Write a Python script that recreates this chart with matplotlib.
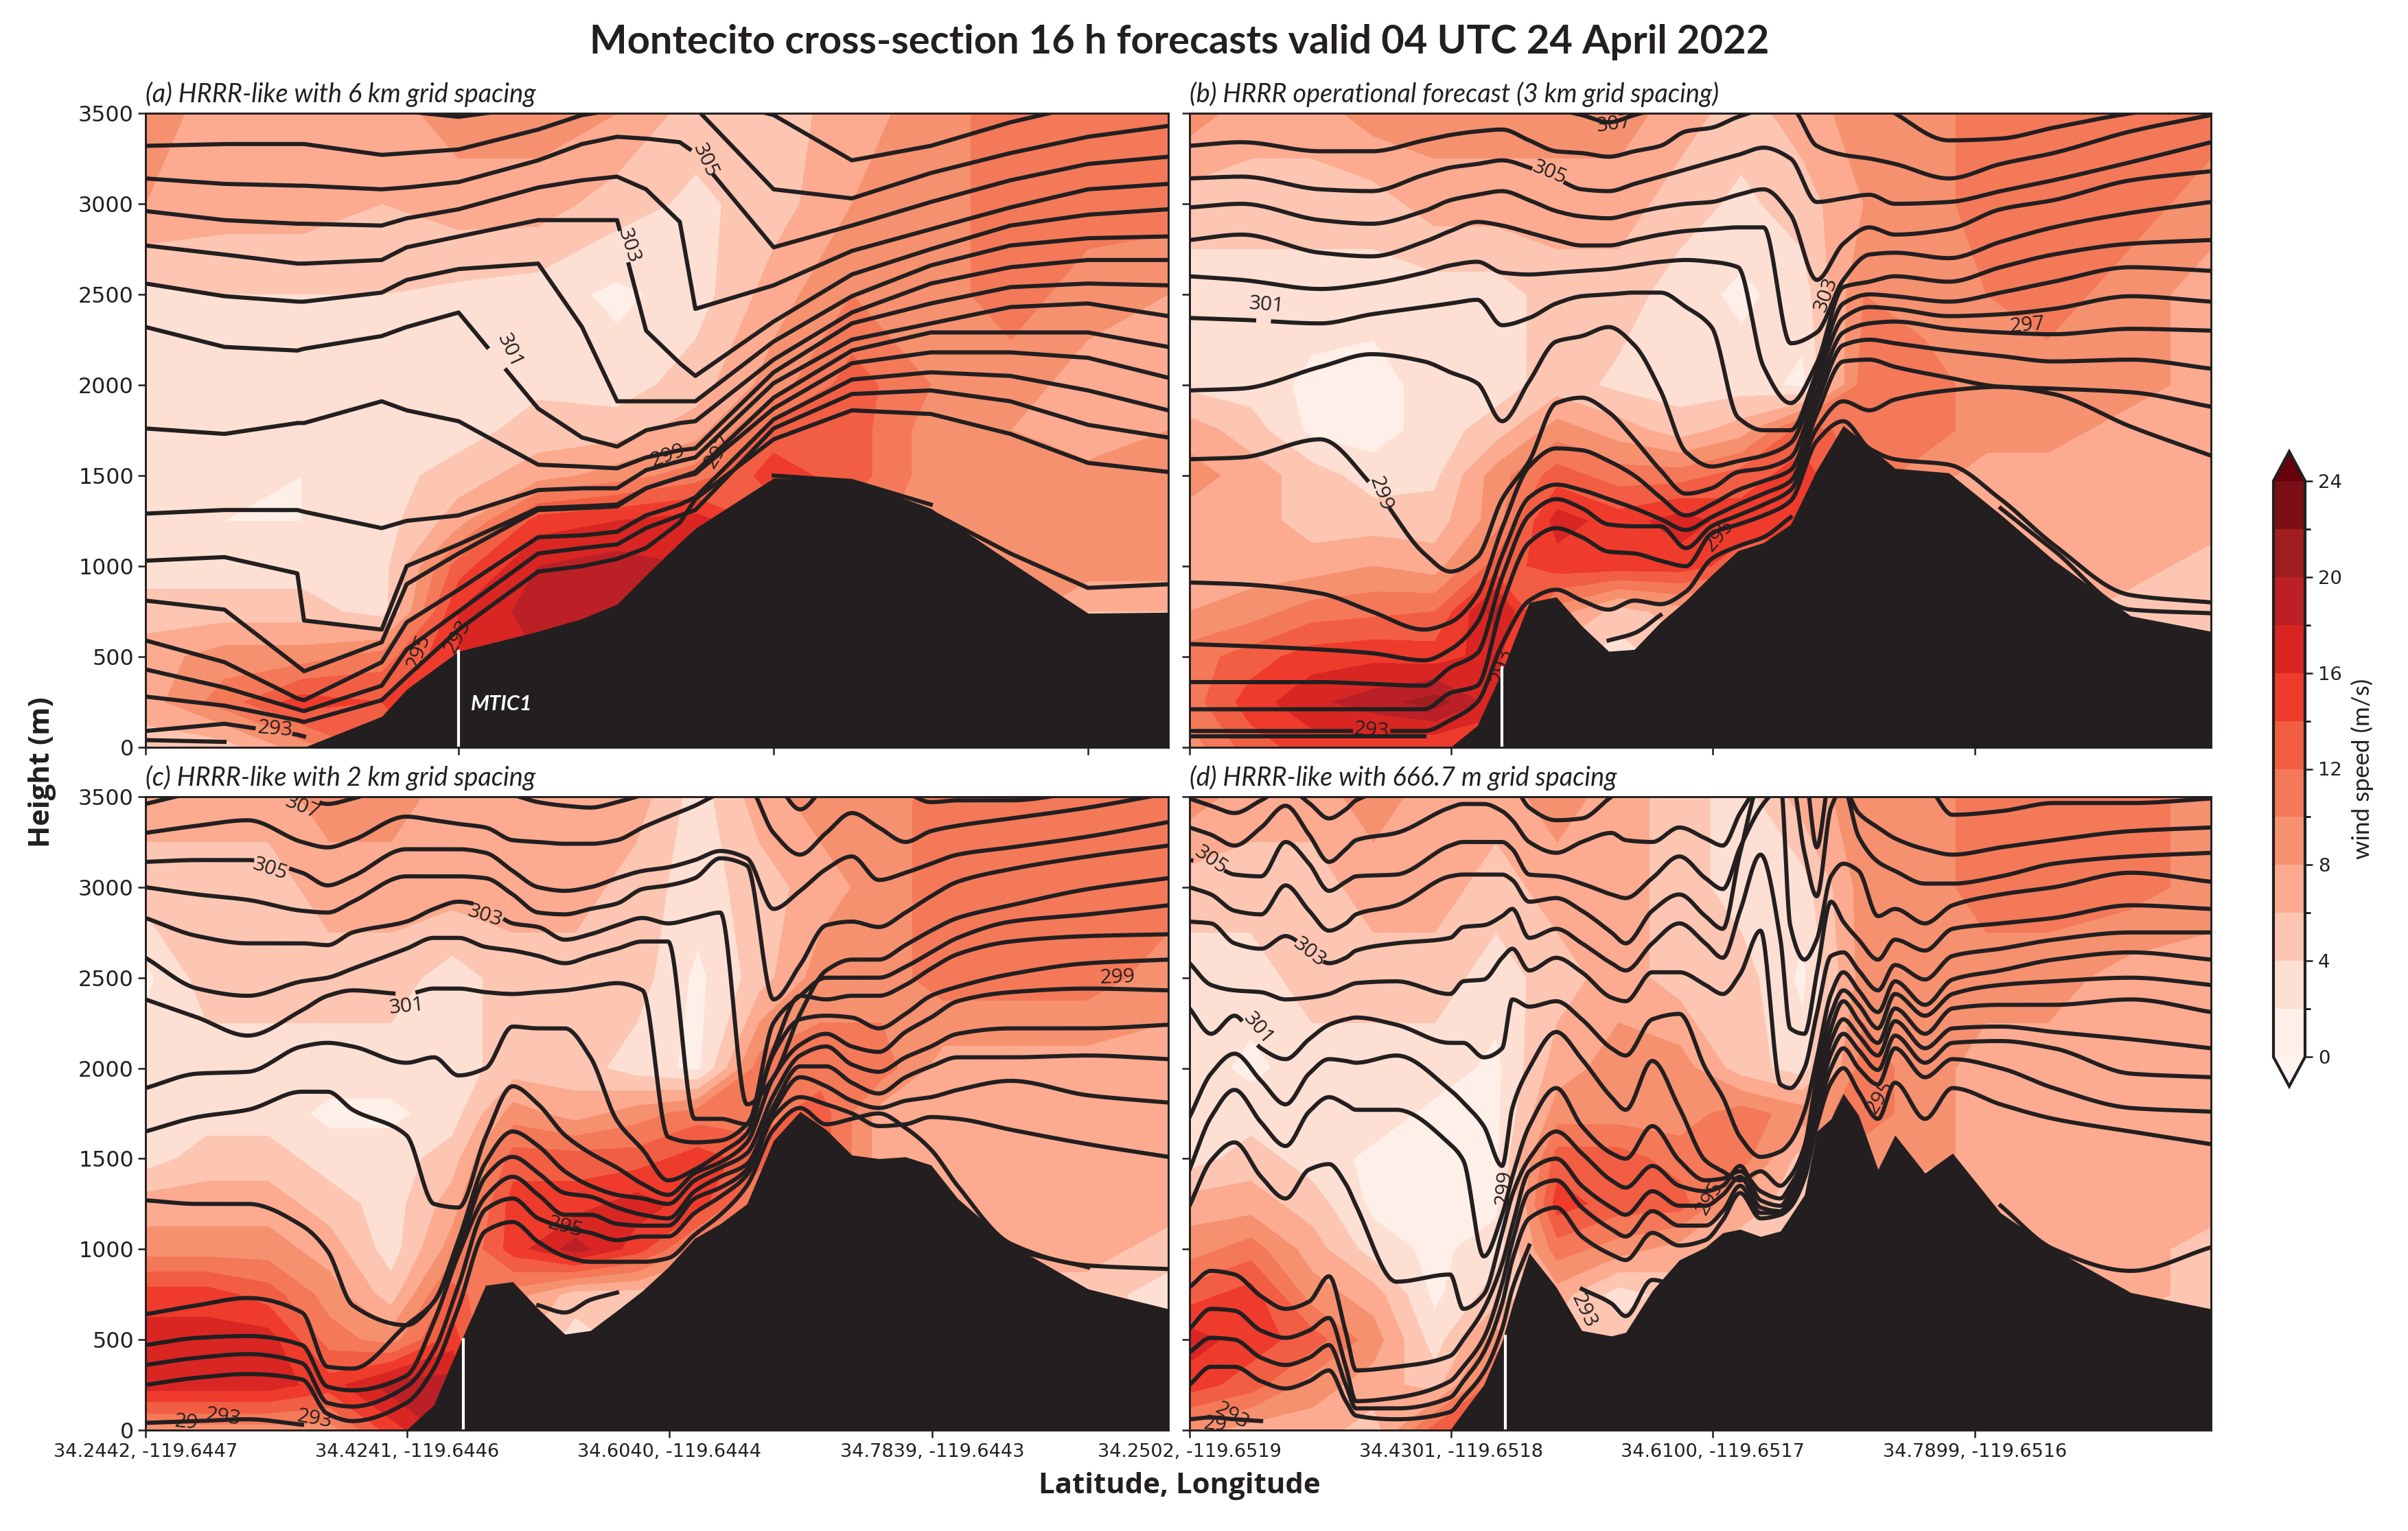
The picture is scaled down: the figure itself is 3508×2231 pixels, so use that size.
import numpy as np
import matplotlib
matplotlib.use("Agg")
import matplotlib.pyplot as plt
from matplotlib.colors import ListedColormap, BoundaryNorm

nan = float("nan")
W, H = 3508, 2231
DARK = "#231f20"
LEVELS = np.arange(0, 25, 2)
COLORS = ['#fef0e8','#fde0d3','#fcc6b2','#fcab90','#f6916f','#f47959','#f25e43','#ef3b2c','#d92623','#bb2026','#a01d20','#7a1015']
UNDER, OVER = '#fff5f0', '#67000d'

WIND_Z = [0, 250, 500, 750, 1000, 1250, 1500, 1750, 2000, 2500, 3000, 3500]

# ---------- panel (a) ----------
XA = [0,7.72,14.84,15.5,23.09,25.53,30.61,38.39,42.68,46.11,48.94,52.24,53.76,61.41,69.06,76.78,84.56,92.15,100]
TERRAIN_A = [0,0,0,0,170,320,530,640,710,790,950,1130,1208,1486,1479,1319,1023,740,745]
THETA_A = [
 [3600,3620,3600,3600,3520,3510,3480,3540,3570,3600,3600,3600,3600,3490,3240,3320,3450,3550,3600],
 [3320,3330,3330,3330,3270,3280,3300,3410,3490,3520,3530,3540,3530,3080,3030,3170,3280,3370,3430],
 [3140,3110,3100,3100,3080,3090,3120,3240,3330,3370,3360,3340,3280,2760,2880,3010,3130,3220,3260],
 [2960,2910,2890,2890,2880,2920,2970,3090,3130,3150,3080,2900,2420,2550,2740,2860,2980,3080,3110],
 [2770,2720,2670,2670,2690,2760,2820,2910,2910,2910,2300,2120,2050,2350,2610,2750,2880,2940,2970],
 [2560,2490,2460,2460,2510,2580,2640,2670,2320,1910,1910,1910,1910,2240,2490,2660,2770,2810,2820],
 [2320,2210,2190,2200,2270,2320,2400,1870,1710,1660,1750,1790,1800,2140,2400,2560,2650,2690,2690],
 [1760,1730,1790,1790,1910,1860,1800,1560,1550,1540,1600,1640,1650,2070,2340,2450,2540,2560,2550],
 [1290,1310,1310,1300,1210,1250,1280,1420,1430,1430,1530,1580,1600,2010,2250,2340,2430,2450,2380],
 [1030,1050,960,700,650,1000,1120,1320,1330,1340,1430,1490,1520,1930,2190,2290,2290,2290,2210],
 [810,760,450,420,580,900,1070,1310,1320,1330,1430,1490,1510,1870,2120,2180,2180,2150,2040],
 [590,470,270,260,470,690,870,1160,1170,1190,1280,1340,1380,1810,2030,2070,2050,1970,1860],
 [430,330,210,200,340,540,750,1070,1100,1120,1210,1280,1310,1760,1950,1970,1910,1780,1710],
 [280,230,150,140,260,390,650,970,1000,1040,1100,1240,1370,1700,1860,1840,1730,1570,1520],
 [90,130,70,60]+[nan]*15,
 [40,30]+[nan]*17,
 [nan]*13+[1500,1470,1340,nan,nan,nan],
 [nan]*15+[1300,1070,880,900],
]
LABELS_A = [(14,12.7,100,'293',-5),(None,26.7,530,'295',70),(None,30.5,610,'293',62),(None,51.1,1610,'299',20),
            (None,56.0,1630,'297',58),(6,35.6,2190,'301',-65),(4,47.2,2770,'303',-72),(2,54.7,3240,'305',-65)]
WXA = [0,7.7,15.3,23.1,30.6,38.4,46.1,53.8,61.4,69.1,76.8,84.6,92.1,100]
WIND_A = [
 [5,5,9,13,15,15,15,15,9,9,9,9,7,6],
 [7,11,15,14,16,17,17,17,9,9,9,9,7,6],
 [7,9,9,11,16,18,18,18,9,9,9,9,6,6],
 [5,5,5,3,16,19,19,18,11,9,9,9,6,6],
 [3,3,3,3,13,18,19,18,11,9,9,9,9,9],
 [3,2,2,3,7,15,16,17,13,11,9,9,9,9],
 [3,3,2,3,5,7,9,11,15,13,9,9,9,9],
 [3,3,3,3,3,5,5,7,13,13,9,8,6,8],
 [3,3,3,3,3,3.5,3,5,9,13,10,9,7,8],
 [3.5,4,4,4,3.5,3,1.5,3,7,10,9,11,9,8],
 [8,7,7,6,7,7,5,3.5,5,8,9,11,11,11],
 [9,7,7,7,9,9,8,5,5,7,9,11,11,11],
]

# ---------- panel (b) ----------
XB = [0,5.08,12.8,17.8,22.96,25.53,28.17,30.6,33.25,35.9,38.4,41.03,43.54,46.1,48.6,51.1,53.7,56.2,58.84,61.4,64,66.55,69.06,74.34,79.4,84.56,92.15,100]
TERRAIN_B = [0,0,0,0,0,0,120,420,800,830,670,530,540,690,810,950,1085,1130,1230,1530,1775,1660,1540,1515,1285,1035,725,640]
THETA_B = [
 [3600,3620,3620,3620,3600,3590,3580,3570,3550,3520,3490,3450,3490,3530,3600,3620,3620,3620,3600,3600,3600,3600,3500,3350,3360,3420,3500,3560],
 [3320,3340,3290,3290,3350,3380,3400,3410,3350,3290,3280,3260,3290,3320,3400,3420,3480,3520,3530,3320,3270,3250,3220,3140,3220,3280,3400,3490],
 [3140,3150,3080,3070,3160,3200,3220,3240,3200,3140,3080,3070,3110,3150,3190,3230,3270,3310,3250,3010,3030,3050,3000,3010,3070,3130,3230,3340],
 [2980,3000,2910,2890,2960,3020,3050,3070,3020,2960,2930,2920,2950,2980,3000,3010,3050,3080,2940,2580,2780,2870,2830,2860,2970,3020,3130,3180],
 [2800,2830,2730,2710,2790,2850,2900,2880,2840,2800,2770,2770,2800,2830,2850,2860,2870,2870,2230,2290,2580,2720,2730,2700,2790,2870,2950,3010],
 [2600,2580,2530,2560,2620,2660,2680,2620,2610,2620,2630,2640,2660,2680,2690,2680,2650,2100,1900,2120,2540,2570,2600,2570,2650,2720,2780,2800],
 [2370,2360,2340,2390,2430,2450,2470,2330,2370,2450,2490,2500,2510,2510,2430,2320,1820,1750,1750,2070,2450,2500,2490,2460,2510,2570,2650,2630],
 [1970,1980,2100,2170,2130,2070,2010,1800,2020,2240,2270,2320,2220,1970,1630,1550,1580,1610,1680,2020,2370,2430,2420,2380,2390,2420,2490,2460],
 [1590,1600,1700,1450,1070,970,1050,1370,1580,1900,1930,1850,1700,1530,1400,1430,1520,1540,1600,1960,2290,2340,2350,2310,2290,2280,2310,2300],
 [910,900,850,750,650,690,840,1210,1550,1650,1640,1580,1500,1380,1280,1340,1420,1470,1530,1900,2220,2250,2230,2190,2160,2130,2140,2090],
 [570,560,540,520,480,540,690,1060,1380,1450,1420,1370,1320,1260,1200,1270,1340,1400,1470,1840,2130,2140,2100,2040,1990,1980,1960,1880],
 [360,360,360,350,340,440,520,940,1280,1370,1320,1230,1220,1220,1100,1220,1280,1340,1420,1760,1910,1860,1920,1970,1990,1950,1770,1610],
 [210,210,210,210,210,300,340,790,1130,1210,1160,1080,1070,1030,1000,1180,1230,1280,1360,1690,1800,1650,1590,1560,1370,1120,840,800],
 [90,90,90,90,90,150,250,570,810,870,810,760,810,790,860,1040,1110,1160,1270]+[nan]*9,
 [nan]*24+[1320,1090,760,740],
 [nan]*11+[590,630,730]+[nan]*14,
 [60,60,60,60,60]+[nan]*23,
]
LABELS_B = [(1,41.5,3440,'307',8),(2,35.2,3170,'305',-22),(6,7.5,2440,'301',-5),(8,18.7,1400,'299',-70),(None,51.8,1170,'295',50),
            (None,62.3,2500,'303',70),(None,82,2330,'297',5),(None,30.6,450,'293',75),(13,17.8,90,'293',-5)]
WX = [0,6,12,18,24,30,36,42,48,54,60,66,72,78,84,92,100]
WIND_B = [
 [9,13,15,15,14,14,5,5,5,5,5,5,5,5,5,5,5],
 [11,15,17.5,19,21,17,5,5,5,5,5,5,5,5,5,5,5],
 [11,13,15,15.5,15,17,5,3,5,7,7,7,7,7,7,7,7],
 [8,9,11,11.5,12,19,9,5,7,7,7,7,7,7,7,5,5],
 [7,7,7,8,7,13,15,15,15,13,11,9,7,7,7,7,5],
 [7,7,5,5,5,9,17,15,17,15,15,11,7,7,7,7,7],
 [9,7,5,3,3.5,9,13,11,11,13,15,11,9,7,7,7,7],
 [7,5,1.5,1,3,5,9,7,5,7,13,11,11,9,9,7,7],
 [3.5,3,1.5,1,3,3,5,3.5,3,3,1.5,11,11,9,9,9,7],
 [3,3,3,3,3,3,5,5,3,1.5,3,10,9,10,11,9,7],
 [5,5,5,5,7,7,7,7,5,3.5,5,8,9,11,11,11,9],
 [9,7,7,9,9,9,9,9,7,5,7,9,9,11,11,11,11],
]

# ---------- panel (c) ----------
XC = [0,5.08,10,15.3,17.8,20.25,25.5,28.2,30.6,33.25,35.9,38.4,41,43.5,46.1,48.6,51.1,53.7,56.2,58.8,61.4,64,66.55,69.06,71.7,74.3,76.8,79.4,84.6,92.15,100]
TERRAIN_C = [0,0,0,0,0,0,0,140,460,800,820,670,530,550,660,770,900,1060,1140,1250,1600,1760,1660,1520,1500,1510,1465,1280,1025,780,670]
THETA_C = [
 [3460,3530,3600,3510,3460,3490,3570,3560,3550,3540,3510,3470,3450,3440,3470,3510,3550,3600,3650,3700,3600,3430,3560,3620,3620,3530,3470,3480,3480,3530,3560],
 [3300,3340,3370,3250,3220,3260,3390,3370,3350,3330,3260,3250,3240,3240,3260,3330,3390,3450,3520,3560,3300,3180,3300,3410,3330,3250,3310,3340,3380,3440,3520],
 [3140,3150,3150,3080,3010,3060,3210,3210,3210,3190,3090,3000,2980,3000,3050,3090,3110,3150,3200,3160,2880,2980,3100,3170,3040,3080,3130,3180,3220,3280,3360],
 [3000,2960,2930,2870,2860,2920,3060,3060,3060,3050,2960,2860,2850,2880,2910,2990,3010,3050,3160,3120,2380,2570,2790,2810,2780,2860,2950,3030,3100,3170,3230],
 [2830,2730,2690,2690,2680,2750,2810,2880,2920,2890,2800,2780,2710,2740,2790,2830,2800,2830,2860,1800,1950,2300,2540,2600,2600,2680,2760,2830,2900,2990,3050],
 [2610,2440,2400,2480,2500,2550,2660,2720,2720,2670,2650,2620,2580,2620,2660,2700,2700,1720,1720,1690,2250,2400,2500,2500,2500,2560,2640,2720,2810,2850,2900],
 [2380,2280,2180,2320,2400,2430,2410,2440,2440,2420,2410,2420,2430,2450,2470,2430,1620,1590,1600,1690,2100,2400,2380,2400,2400,2460,2550,2630,2700,2730,2740],
 [1890,1970,1980,2120,2140,2120,2030,2060,1960,2000,2230,2220,2220,2060,1710,1550,1380,1440,1530,1640,2080,2270,2290,2280,2220,2300,2400,2450,2520,2580,2600],
 [1650,1730,1770,1870,1870,1770,1630,1250,1230,1620,1900,1800,1630,1530,1450,1360,1300,1420,1480,1590,1950,2130,2190,2120,2090,2200,2280,2370,2420,2440,2430],
 [1270,1250,1250,1130,990,690,580,710,1050,1480,1650,1570,1430,1350,1300,1280,1250,1380,1450,1530,1850,2070,2120,2020,1980,2060,2120,2190,2220,2220,2240],
 [640,690,730,650,350,340,580,710,1000,1400,1510,1420,1310,1290,1230,1190,1170,1320,1400,1470,1790,2010,2010,1920,1860,1950,2010,2060,2060,2070,2050],
 [470,510,520,470,240,220,300,600,970,1290,1400,1300,1190,1190,1140,1130,1130,1280,1340,1440,1760,1950,1900,1820,1780,1820,1840,1880,1930,1850,1810],
 [360,400,420,370,150,130,240,440,800,1220,1280,1170,1120,1090,1050,1070,1070,1200,1290,1410,1730,1840,1800,1750,1680,1690,1730,1720,1660,1580,1510],
 [250,290,310,280,90,50,150,340,680,1100,1150,1040,960,930,930,930,950,1080,1190,1350,1660,1780,1690,1720,1750,1670,1550,1350,1030,910,890],
 [40,50,60,30,nan,nan,nan,nan,nan,nan,nan,690,650,720,760,nan,nan,nan,nan,nan,nan,nan,nan,nan,nan,nan,nan,1250,1010,900,nan],
]
LABELS_C = [(0,15.3,3440,'307',-22),(2,12.2,3100,'305',-18),(4,33.2,2840,'303',-18),(6,25.5,2340,'301',6),(13,41,1120,'295',-15),
            (None,95,2500,'299',2),(None,7.6,70,'293',-8),(None,16.5,60,'293',-10),(None,4,40,'29',-5)]
WIND_C = [
 [9,9,9,9,15,19,5,5,5,5,5,5,5,5,5,5,5],
 [17,17,17,15,19,19,5,5,5,5,5,5,5,5,5,5,5],
 [17,17,17,11,9,15,7,3,5,5,5,5,5,5,5,5,3],
 [15,15,13,9,5,13,9,5,5,5,5,5,5,5,5,5,3],
 [9,9,9,7,3,9,15,19,15,9,7,7,7,7,7,7,5],
 [7,7,7,5,3,7,15,15,17,15,9,9,7,7,7,7,7],
 [3,5,5,3,3,5,13,13,13,15,13,13,7,7,7,7,7],
 [3,3,3,1.5,1.5,3,9,7,9,11,11,13,7,7,7,7,7],
 [3,3,3,3,3,3,5,5,3,1.5,11,11,11,7,7,7,7],
 [1.5,5,5,5,5,3,5,5,5,1.5,5,9,9,11,11,11,9],
 [5,5,5,7,7,7,7,7,5,3,5,7,9,11,11,11,11],
 [7,7,7,9,9,7,7,7,7,3,7,9,9,11,11,11,11],
]

# ---------- panel (d) ----------
XD = [0,2.1,4.4,7,9.4,11.7,13.65,15.3,16.3,20.25,25.5,26.8,28.8,30.6,31.6,33.25,35.9,38.4,41.3,42.7,45.3,47.95,50.5,52.2,53.9,55.9,57.85,58.8,60.2,61.4,62.8,64,65.5,67.4,69.06,72,74.7,79.4,84.6,92.15,100]
TERRAIN_D = [0,0,0,0,0,0,0,0,0,0,0,100,250,490,690,980,790,550,520,540,770,940,1010,1090,1110,1070,1100,1180,1300,1650,1720,1860,1740,1440,1630,1420,1530,1200,1000,760,670]
THETA_D = [
 [3490,3450,3410,3480,3550,3465,3380,3430,3480,3550,3600,3600,3600,3600,3570,3440,3370,3380,3500,3550]+[3600]*15+[3570,3400,3420,3465,3465,3490],
 [3330,3290,3230,3330,3450,3290,3140,3210,3260,3300,3440,3460,3460,3420,3370,3250,3190,3250,3300,3260,3250,3330,3270,3230,3410,3570,3630,3630,3630,3220,3630,3570,3410,3330,3270,3210,3180,3220,3260,3310,3330],
 [3150,3130,3070,3060,3250,3130,2980,3030,3060,3070,3230,3250,3250,3250,3210,3070,3060,3020,2960,2940,3050,3170,3050,2990,3220,3440,3570,3630,3190,2950,3440,3550,3280,3140,3090,3020,3020,3060,3130,3170,3190],
 [3000,2960,2870,2850,3010,2870,2760,2800,2850,2900,3060,3070,3070,3070,3040,2920,2940,2870,2750,2690,2870,2960,2840,2770,3190,3570,3570,2790,2600,2710,3060,3130,3090,2840,2880,2800,2900,2960,3000,3080,3030],
 [2810,2800,2690,2660,2730,2650,2580,2610,2650,2690,2720,2780,2790,2840,2880,2720,2770,2690,2580,2540,2690,2800,2690,2610,2870,3180,2710,2220,2190,2520,2920,2810,2710,2600,2710,2650,2770,2800,2830,2900,2880],
 [2580,2460,2430,2420,2380,2390,2410,2450,2470,2480,2410,2480,2490,2610,2660,2540,2610,2530,2390,2370,2530,2530,2460,2410,2520,2760,1910,1890,2000,2300,2620,2640,2540,2430,2570,2490,2620,2660,2710,2750,2750],
 [2330,2190,2290,2110,2050,2160,2240,2270,2280,2240,2140,2140,2060,2110,2380,2340,2370,2270,2110,2070,2270,2300,2000,1840,1620,1510,1540,1590,1760,2050,2410,2530,2430,2310,2480,2350,2490,2540,2600,2640,2600],
 [1730,1970,2080,1930,1800,1970,2050,2040,2030,2070,1880,1810,1680,1460,1780,2000,2200,2050,1840,1770,2040,1780,1490,1430,1380,1430,1350,1400,1570,1950,2300,2430,2350,2220,2410,2290,2410,2460,2480,2500,2460],
 [1440,1730,1880,1700,1570,1760,1840,1800,1770,1770,1580,1490,960,1190,1400,1680,1890,1680,1530,1500,1680,1490,1380,1390,1430,1320,1280,1350,1510,1870,2220,2370,2260,2140,2330,2190,2330,2350,2350,2380,2310],
 [1240,1490,1590,1400,1280,1440,1470,1360,1240,820,860,670,750,1090,1300,1500,1650,1530,1380,1340,1460,1350,1320,1350,1460,1270,1240,1310,1470,1810,2150,2270,2180,2070,2260,2110,2220,2230,2200,2160,2110],
 [790,880,860,740,670,710,850,540,330,350,410,500,670,920,1130,1430,1500,1350,1230,1190,1320,1240,1240,1300,1400,1230,1210,1280,1440,1770,2080,2190,2100,1990,2180,2030,2140,2150,2110,1970,1950],
 [560,670,660,550,510,550,620,350,160,180,270,350,510,810,1040,1320,1380,1230,1110,1070,1210,1130,1130,1210,1350,1200,1200,1260,1420,1730,2000,2110,2000,1910,2110,1950,2050,2000,1890,1780,1760],
 [430,510,500,400,360,400,470,250,120,120,180,270,430,700,940,1170,1230,1070,970,940,1090,1020,1050,1160,1310,1170,1190,1230,1390,1680,1920,2000,1870,1720,1920,1720,1890,1800,1720,1650,1580],
 [250,350,350,270,230,270,330,160,80,60,100,180,320,560,780,1020]+[nan]*25,
 [nan]*37+[1240,1000,880,1010],
 [60,70,60,50]+[nan]*13+[780,700,630,830,790]+[nan]*19,
]
LABELS_D = [(2,2.1,3150,'305',-35),(4,11.7,2640,'303',-38),(6,6.7,2220,'301',-50),(None,30.8,1340,'299',85),(None,67.6,1840,'295',58),
            (None,50.9,1280,'295',60),(None,38.6,660,'293',-65),(None,4.1,80,'293',-30),(None,2.5,30,'29',-5)]
WIND_D = [
 [9,7,7,5,13,17,15,5,5,5,5,5,5,5,5,5,5],
 [15,13,9,7,5,13,5,5,5,5,5,5,5,5,5,5,5],
 [17,15,13,9,3,9,5,5,5,5,5,5,5,5,5,5,5],
 [13,15,9,7,1.5,5,7,3,5,5,5,5,5,5,5,7,5],
 [9,11,7,3,1.5,3,11,9,7,5,5,5,5,5,7,7,5],
 [7,7,5,1.5,1,1.5,15,13,13,7,5,5,5,7,7,7,7],
 [3,5,3,1.5,1,1.5,13,13,11,11,5,9,9,7,7,7,7],
 [3,3,3,3,1.5,1.5,9,9,9,11,9,11,9,7,7,7,7],
 [3,1.5,3,3,3,1.5,7,9,9,5,3,11,9,7,7,7,7],
 [3,3,5,5,5,3,5,7,5,5,1.5,9,9,9,9,7,7],
 [5,5,5,7,7,5,7,7,5,3,3,9,9,11,11,11,9],
 [9,7,7,9,7,7,9,7,5,3,7,9,9,11,11,11,9],
]

XTICKS_A = [0, 30.6, 61.4, 92.15]
XTICKS = [0, 25.6, 51.2, 76.9]
XLABELS_C = ['34.2442, -119.6447', '34.4241, -119.6446', '34.6040, -119.6444', '34.7839, -119.6443']
XLABELS_D = ['34.2502, -119.6519', '34.4301, -119.6518', '34.6100, -119.6517', '34.7899, -119.6516']
YTICKS = [0, 500, 1000, 1500, 2000, 2500, 3000, 3500]
TITLES = ['(a) HRRR-like with 6 km grid spacing', '(b) HRRR operational forecast (3 km grid spacing)',
          '(c) HRRR-like with 2 km grid spacing', '(d) HRRR-like with 666.7 m grid spacing']
STATION_X = [30.6, 30.6, 31.1, 30.9]
STATION_Z = [530, 440, 500, 520]

plt.rcParams['font.family'] = ['Open Sans', 'DejaVu Sans']
fig = plt.figure(figsize=(W/300, H/300), dpi=300)

def axbox(x0, x1, y0, y1):
    return [x0/W, 1-y1/H, (x1-x0)/W, (y1-y0)/H]

cmap = ListedColormap(COLORS)
cmap.set_under(UNDER)
cmap.set_over(OVER)
norm = BoundaryNorm(LEVELS, cmap.N)

def run_curve(x, z, smooth):
    # monotone cubic between the read points, straight lines when smooth is False
    t = np.linspace(0, 1, 25, endpoint=False)
    n = len(x)
    if n == 1:
        return x, z
    h = np.diff(x); d = np.diff(z)/h
    m = np.zeros(n)
    m[0], m[-1] = d[0], d[-1]
    for i in range(1, n-1):
        if d[i-1]*d[i] > 0:
            w1, w2 = 2*h[i]+h[i-1], h[i]+2*h[i-1]
            m[i] = (w1+w2)/(w1/d[i-1]+w2/d[i])
    xs, zs = [], []
    for i in range(n-1):
        xs.append(x[i]+h[i]*t)
        if smooth:
            h00 = 2*t**3-3*t**2+1; h10 = t**3-2*t**2+t; h01 = -2*t**3+3*t**2; h11 = t**3-t**2
            zs.append(h00*z[i]+h10*h[i]*m[i]+h01*z[i+1]+h11*h[i]*m[i+1])
        else:
            zs.append(z[i]+d[i]*h[i]*t)
    xs.append([x[-1]]); zs.append([z[-1]])
    return np.concatenate(xs), np.concatenate(zs)

def broken(x, z, gaps, smooth):
    ok = np.isfinite(z)
    starts = np.where(ok & ~np.r_[False, ok[:-1]])[0]
    ends = np.where(ok & ~np.r_[ok[1:], False])[0]
    xs, zs = [], []
    for a, b in zip(starts, ends):
        px, pz = run_curve(x[a:b+1], z[a:b+1], smooth)
        xs += [px, [np.nan]]; zs += [pz, [np.nan]]
    xs = np.concatenate(xs); zs = np.concatenate(zs)
    for gx, gz in gaps:
        m = ((xs-gx)/1.9)**2 + ((zs-gz)/95)**2 < 1
        zs = np.where(m, np.nan, zs)
    return xs, zs

def panel(box, title, wx, wind, x, terrain, theta, labels, sx, sz, smooth):
    ax = fig.add_axes(box)
    cf = ax.contourf(wx, WIND_Z, np.array(wind, float), levels=LEVELS, cmap=cmap, norm=norm, extend='both')
    x = np.array(x, float)
    for i, line in enumerate(theta):
        z = np.array(line, float)
        gaps = [(l[1], l[2]) for l in labels if l[0] == i]
        px, pz = broken(x, z, gaps, smooth)
        ax.plot(px, pz, color=DARK, lw=1.45, solid_joinstyle='round', zorder=3)
    ax.fill_between(x, 0, terrain, color=DARK, lw=0, zorder=4)
    for idx, lx, lz, text, rot in labels:
        ax.text(lx, lz, text, fontsize=7.2, color=DARK, rotation=rot, ha='center', va='center',
                rotation_mode='anchor', zorder=5, clip_on=True)
    ax.plot([sx, sx], [0, sz], color='white', lw=1.0, zorder=6)
    ax.set_xlim(0, 100); ax.set_ylim(0, 3500)
    ax.set_yticks(YTICKS)
    ax.text(0, 3535, title, fontsize=9.1, style='italic', color=DARK, family='Lato', va='bottom', ha='left')
    for s in ax.spines.values():
        s.set_linewidth(0.7); s.set_color(DARK); s.set_zorder(8)
    ax.tick_params(length=2.6, width=0.6, color=DARK, labelcolor=DARK, pad=1.5)
    return ax, cf

axa, cf = panel(axbox(212,1702,165,1089), TITLES[0], WXA, WIND_A, XA, TERRAIN_A, THETA_A, LABELS_A, STATION_X[0], STATION_Z[0], False)
axb, _ = panel(axbox(1733,3221,165,1089), TITLES[1], WX, WIND_B, XB, TERRAIN_B, THETA_B, LABELS_B, STATION_X[1], STATION_Z[1], True)
axc, _ = panel(axbox(212,1702,1161,2084), TITLES[2], WX, WIND_C, XC, TERRAIN_C, THETA_C, LABELS_C, STATION_X[2], STATION_Z[2], True)
axd, _ = panel(axbox(1733,3221,1161,2084), TITLES[3], WX, WIND_D, XD, TERRAIN_D, THETA_D, LABELS_D, STATION_X[3], STATION_Z[3], True)

axa.text(31.8, 240, 'MTIC1', color='white', fontsize=7.4, style='italic', weight='bold', family='Lato', va='center', zorder=7)

axa.set_xticks(XTICKS_A); axa.set_xticklabels([])
axb.set_xticks(XTICKS); axb.set_xticklabels([])
axc.set_xticks(XTICKS); axc.set_xticklabels(XLABELS_C)
axd.set_xticks(XTICKS); axd.set_xticklabels(XLABELS_D)
axb.set_yticklabels([]); axd.set_yticklabels([])
for ax in (axa, axc):
    ax.tick_params(axis='y', labelsize=7.6, labelfontfamily='DejaVu Sans')
for ax in (axc, axd):
    ax.tick_params(axis='x', labelsize=6.5, labelfontfamily='DejaVu Sans', length=2.6, pad=2)

fig.text(1718/W, 1-62/H, 'Montecito cross-section 16 h forecasts valid 04 UTC 24 April 2022', fontsize=13.9, weight='bold',
         family='Lato', color=DARK, ha='center', va='center')
fig.text(1718/W, 1-2166/H, 'Latitude, Longitude', fontsize=10.1, weight='bold', color=DARK, ha='center', va='center')
fig.text(62/W, 1-1125/H, 'Height (m)', fontsize=10.1, weight='bold', color=DARK, rotation=90, ha='center', va='center')

cax = fig.add_axes(axbox(3312,3358,658,1583))
cb = fig.colorbar(cf, cax=cax, extend='both', extendfrac=0.051, ticks=[0,4,8,12,16,20,24])
cb.outline.set_linewidth(1.0); cb.outline.set_edgecolor(DARK)
cax.tick_params(labelsize=6.6, length=2.6, width=0.6, color=DARK, labelcolor=DARK, labelfontfamily='DejaVu Sans', pad=2)
cb.set_label('wind speed (m/s)', fontsize=8.4, color=DARK, labelpad=3, family='Lato')

fig.savefig('out.png', dpi=300)
